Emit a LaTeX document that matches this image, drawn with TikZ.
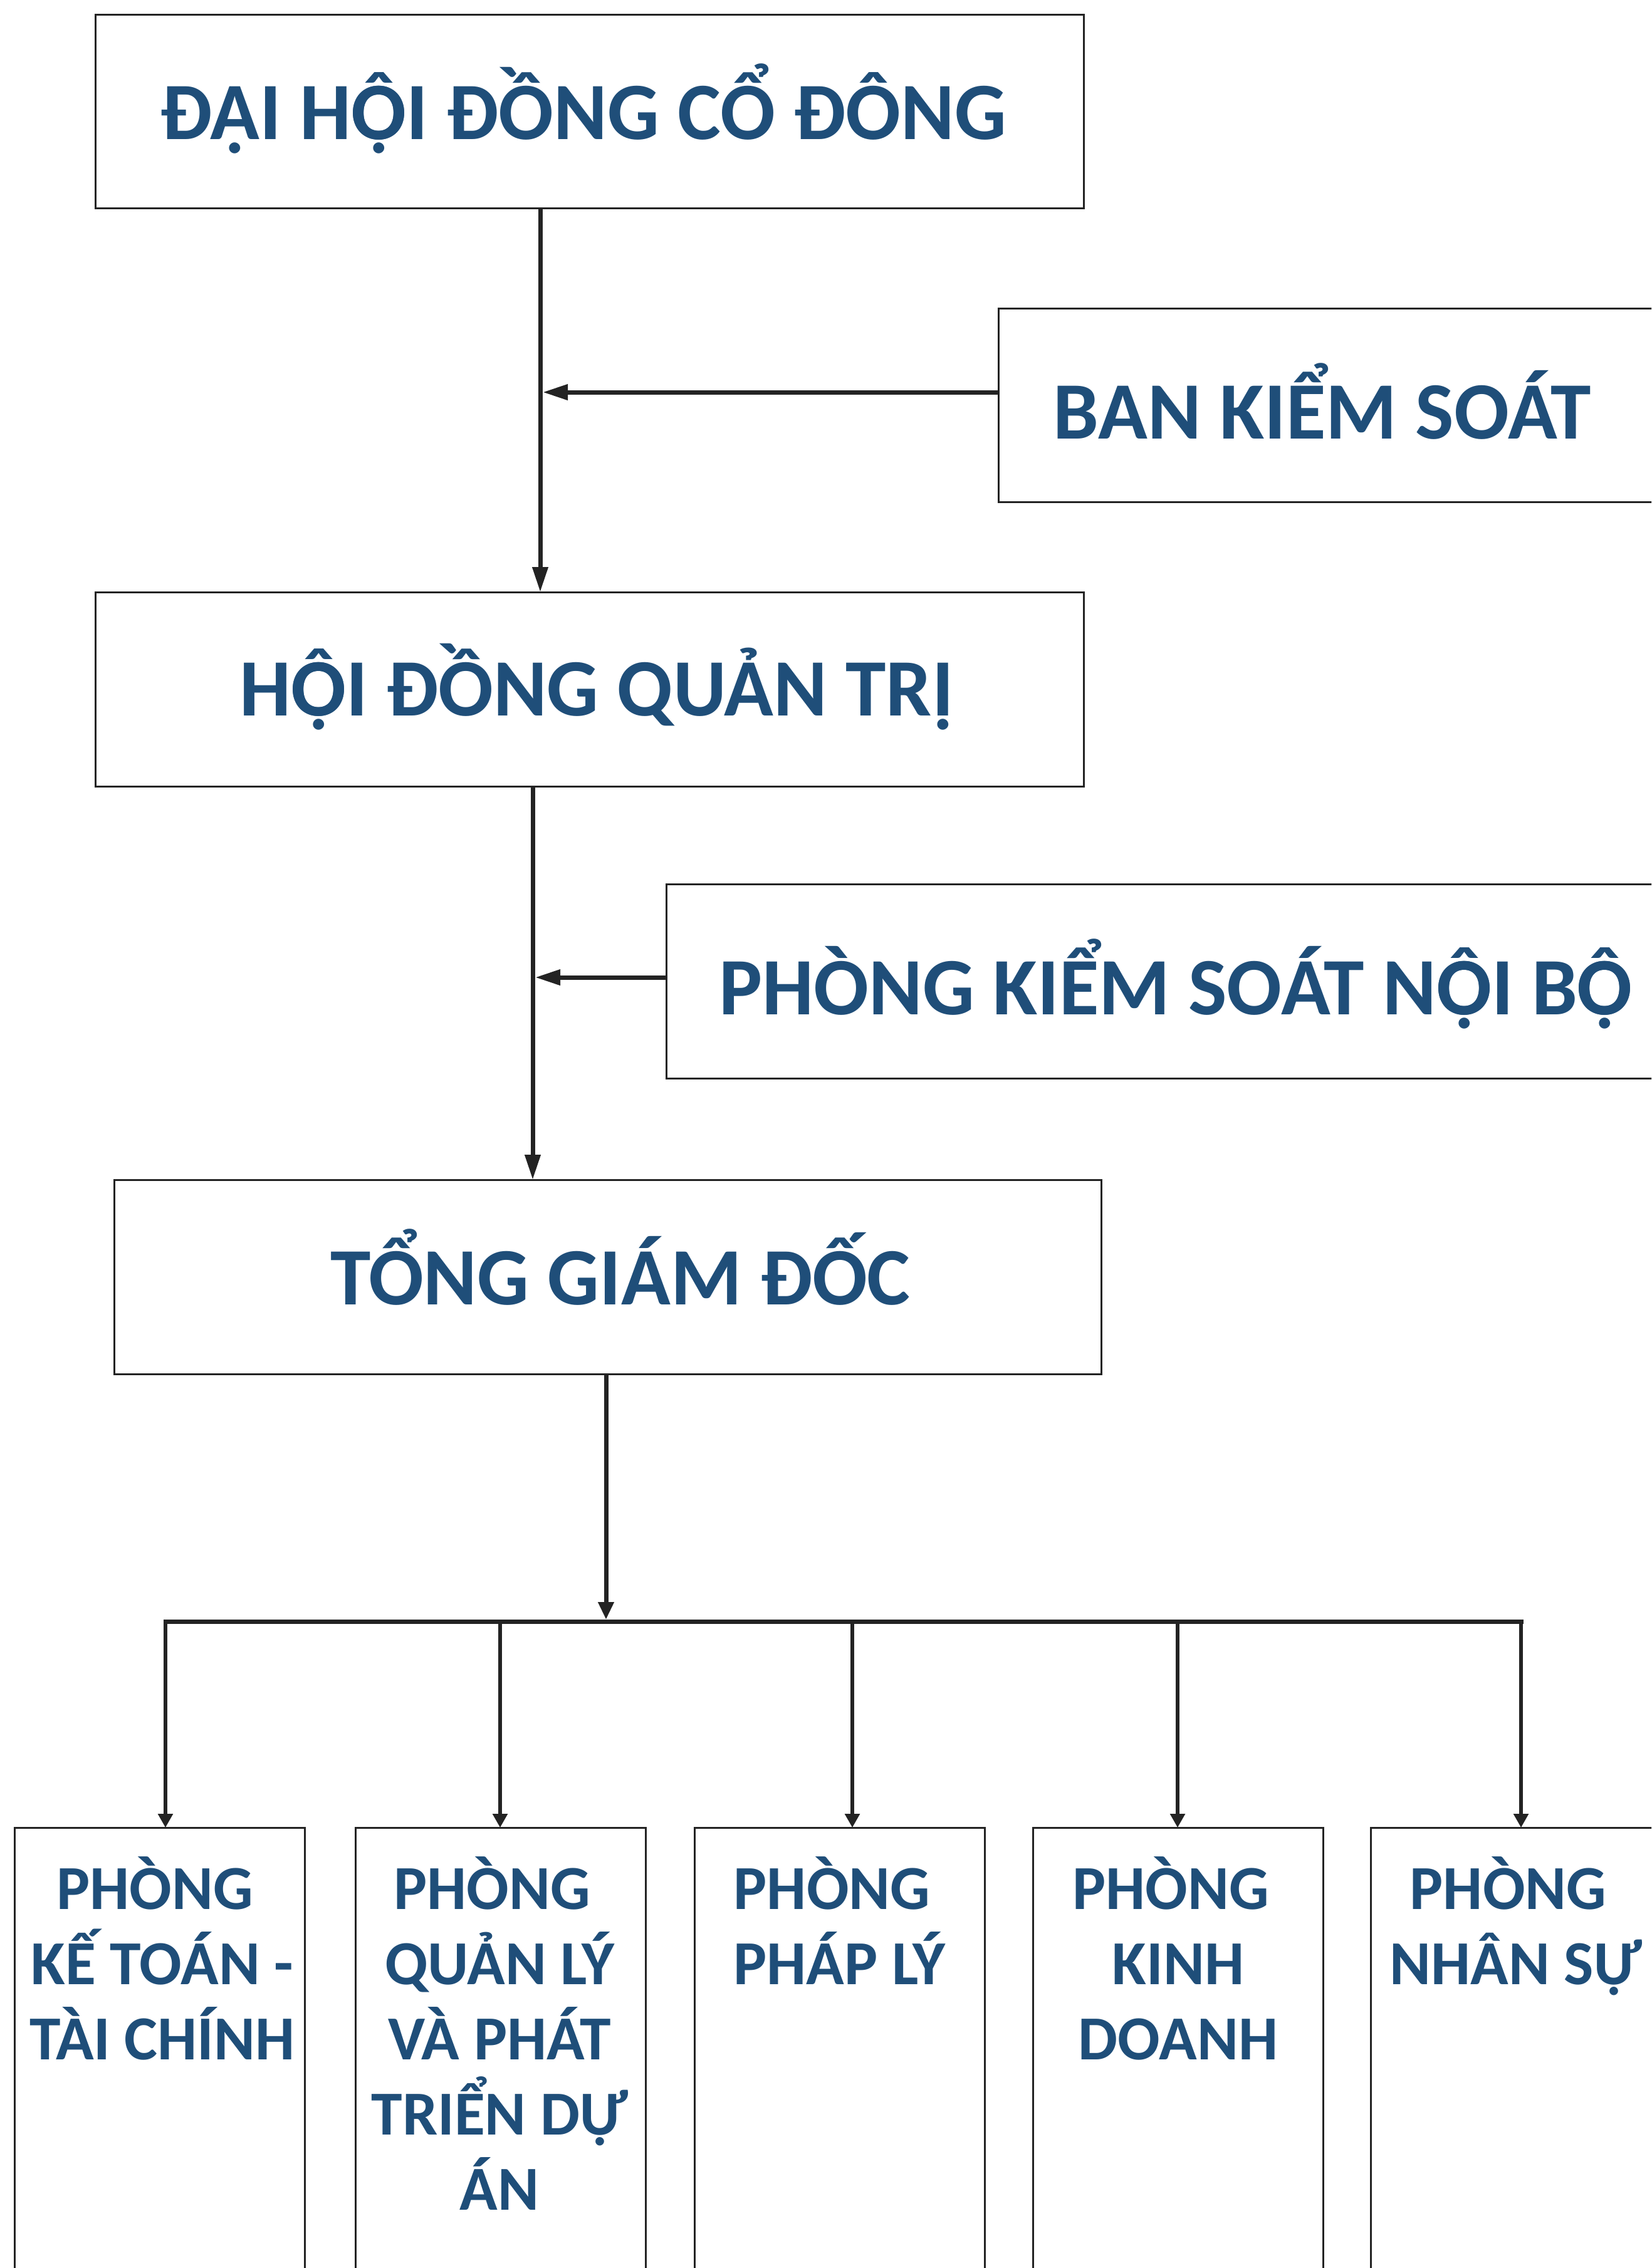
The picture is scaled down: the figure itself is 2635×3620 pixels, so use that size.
\documentclass[tikz,border=0pt]{standalone}
\usepackage{fontspec}
\setmainfont{Carlito}
\usetikzlibrary{arrows.meta}
\definecolor{txtblue}{RGB}{31,78,121}
\definecolor{linegray}{RGB}{35,35,35}
% O with circumflex and dot below, built from two glyphs the font has
\newcommand{\Ohatdot}{\rlap{Ô}Ọ}
\begin{document}
\begin{tikzpicture}[x=0.5pt,y=-0.5pt,
  box/.style={draw=linegray,line width=1.5pt,fill=white,inner sep=0pt,outer sep=0pt},
  bigbox/.style={box,minimum width=788.5pt,minimum height=154.5pt},
  lowbox/.style={box,minimum width=231.5pt,minimum height=441.5pt},
  bigtxt/.style={anchor=base,inner sep=0pt,text=txtblue,font=\fontsize{65}{78}\selectfont\bfseries},
  smalltxt/.style={anchor=base,inner sep=0pt,text=txtblue,align=center,font=\fontsize{50}{60}\selectfont\bfseries},
  conn/.style={draw=linegray,line width=3.5pt},
  bigarrow/.style={conn,-{Triangle[length=20pt,width=12pt]}},
  busline/.style={draw=linegray,line width=3.5pt},
  subarrow/.style={draw=linegray,line width=3pt,-{Triangle[length=11pt,width=11.5pt]}},
]
\useasboundingbox (0,0) rectangle (2635,3620);
\clip (0,0) rectangle (2635,3620);
\fill[white] (0,0) rectangle (2635,3620);

% boxes
\node[bigbox] (dhdcd) at (940.5,177.5) {};
\node[box,minimum width=603.5pt,minimum height=154.5pt] (bks) at (2196.5,646.5) {};
\node[bigbox,minimum height=155pt] (hdqt) at (940.5,1100) {};
\node[box,minimum width=868.5pt,minimum height=155pt] (pksnb) at (1931.5,1566) {};
\node[bigbox,minimum width=787.5pt,minimum height=155pt] (tgd) at (969.5,2038) {};

\node[lowbox] (p1) at (255,3358.5) {};
\node[lowbox] (p2) at (798.5,3358.5) {};
\node[lowbox] (p3) at (1339.5,3358.5) {};
\node[lowbox] (p4) at (1880,3358.5) {};
\node[lowbox] (p5) at (2418.5,3358.5) {};

% texts (base anchor = baseline of the last line)
\node[bigtxt] (t1) at (931,222) {ĐẠI H\Ohatdot I ĐỒNG CỔ ĐÔNG};
\node[bigtxt] (tbks) at (2110,700) {BAN KIỂM SOÁT};
\node[bigtxt] (t2) at (952,1142) {H\Ohatdot I ĐỒNG QUẢN TRỊ};
\node[bigtxt] (tpk) at (1876,1619) {PHÒNG KIỂM SOÁT N\Ohatdot I B\Ohatdot};
\node[bigtxt] (t3) at (990,2082) {TỔNG GIÁM ĐỐC};

\node[smalltxt] (tp1) at (259,3287) {PHÒNG\hspace*{12pt}\\KẾ TOÁN -\\TÀI CHÍNH};
\node[smalltxt] (tp2) at (797,3527) {PHÒNG\hspace*{12pt}\\QUẢN LÝ\\VÀ PHÁT\\TRIỂN DỰ\\ÁN};
\node[smalltxt] (tp3) at (1339.5,3167) {PHÒNG\hspace*{12pt}\\PHÁP LÝ};
\node[smalltxt] (tp4) at (1880,3287) {PHÒNG\hspace*{12pt}\\KINH\\DOANH};
\node[smalltxt] (tp5) at (2418.5,3167) {PHÒNG\hspace*{12pt}\\NHÂN SỰ};

% junction coordinates
\coordinate (j1) at (866,626);
\coordinate (j2) at (854,1560);
\coordinate (busL) at (264,2588);
\coordinate (busR) at (2427,2588);
\coordinate (busT) at (967,2585);

% connectors
\draw[bigarrow] (dhdcd.south -| 862,0) -- (hdqt.north -| 862,0);
\draw[bigarrow] (bks.west |- j1) -- (j1);
\draw[bigarrow] (hdqt.south -| 850,0) -- (tgd.north -| 850,0);
\draw[bigarrow] (pksnb.west |- j2) -- (j2);
\draw[conn,-{Triangle[length=14pt,width=12pt]}] (tgd.south -| busT) -- (busT);
\draw[busline,line cap=rect] (busL) -- (busR);
\draw[subarrow] (busL) -- (p1.north -| busL);
\draw[subarrow] (798,2588) -- (p2.north -| 798,0);
\draw[subarrow] (1360,2588) -- (p3.north -| 1360,0);
\draw[subarrow] (1879,2588) -- (p4.north -| 1879,0);
\draw[subarrow] (busR) -- (p5.north -| busR);
\end{tikzpicture}
\end{document}
